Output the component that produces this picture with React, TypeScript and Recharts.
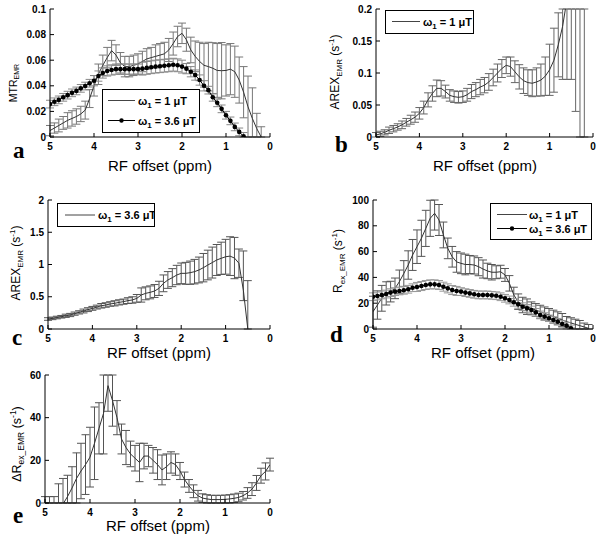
import React from 'react';
import { LineChart, Line, XAxis, YAxis, ErrorBar, Legend } from 'recharts';

const FONT = 'Arial, "Liberation Sans", Helvetica, sans-serif';
const SERIF = '"Times New Roman", "Liberation Serif", serif';

// RF offset (ppm), 0.1 ppm steps from 5 down to 0
const X_PPM = [5.0, 4.9, 4.8, 4.7, 4.6, 4.5, 4.4, 4.3, 4.2, 4.1, 4.0, 3.9, 3.8, 3.7, 3.6, 3.5, 3.4, 3.3, 3.2, 3.1, 3.0, 2.9, 2.8, 2.7, 2.6, 2.5, 2.4, 2.3, 2.2, 2.1, 2.0, 1.9, 1.8, 1.7, 1.6, 1.5, 1.4, 1.3, 1.2, 1.1, 1.0, 0.9, 0.8, 0.7, 0.6, 0.5, 0.4, 0.3, 0.2, 0.1, 0.0];
const X_TICKS = [5, 4, 3, 2, 1, 0];

const A_Y_TICKS = [0, 0.02, 0.04, 0.06, 0.08, 0.1];
const B_Y_TICKS = [0, 0.05, 0.1, 0.15, 0.2];
const C_Y_TICKS = [0, 0.5, 1, 1.5, 2];
const D_Y_TICKS = [0, 20, 40, 60, 80, 100];
const E_Y_TICKS = [0, 20, 40, 60];

const LABEL_1UT = '1 μT';
const LABEL_36UT = '3.6 μT';

// Panel a: MTR_EMR
const A_MTR_1UT = [0.005, 0.007, 0.009, 0.011, 0.013, 0.0145, 0.016, 0.018, 0.021, 0.03, 0.04, 0.049, 0.056, 0.062, 0.0675, 0.064, 0.058, 0.055, 0.055, 0.056, 0.057, 0.059, 0.061, 0.062, 0.063, 0.064, 0.065, 0.068, 0.073, 0.0785, 0.081, 0.076, 0.068, 0.063, 0.059, 0.056, 0.055, 0.0537, 0.052, 0.0518, 0.052, 0.053, 0.051, 0.0445, 0.035, 0.0236, 0.0144, 0.0065, 0.0];
const A_ERR_1UT = [0.004, 0.004, 0.005, 0.005, 0.006, 0.006, 0.006, 0.006, 0.007, 0.007, 0.008, 0.008, 0.008, 0.008, 0.008, 0.008, 0.008, 0.008, 0.008, 0.008, 0.008, 0.008, 0.008, 0.008, 0.009, 0.009, 0.009, 0.009, 0.009, 0.008, 0.008, 0.009, 0.01, 0.012, 0.015, 0.017, 0.019, 0.02, 0.021, 0.022, 0.02, 0.02, 0.02, 0.018, 0.02, 0.024, 0.024, 0.012, 0.008];
const A_MTR_36UT = [0.0257, 0.0275, 0.029, 0.031, 0.0327, 0.0345, 0.036, 0.038, 0.0398, 0.042, 0.044, 0.0476, 0.05, 0.0516, 0.0524, 0.053, 0.053, 0.053, 0.053, 0.053, 0.053, 0.0534, 0.054, 0.0545, 0.055, 0.0553, 0.0557, 0.056, 0.0565, 0.056, 0.055, 0.0534, 0.051, 0.0484, 0.0445, 0.04, 0.0366, 0.031, 0.0267, 0.022, 0.017, 0.0126, 0.0079, 0.004, 0.0005];
const A_ERR_36UT = [0.003, 0.003, 0.003, 0.003, 0.003, 0.003, 0.003, 0.003, 0.003, 0.003, 0.004, 0.004, 0.004, 0.004, 0.004, 0.004, 0.004, 0.004, 0.004, 0.004, 0.004, 0.005, 0.005, 0.005, 0.005, 0.005, 0.005, 0.005, 0.005, 0.005, 0.005, 0.004, 0.004, 0.004, 0.004, 0.004, 0.003, 0.003, 0.003, 0.003, 0.003, 0.003, 0.003, 0.003, 0.003];

// Panel b: AREX_EMR at 1 uT
const B_AREX_1UT = [0.003, 0.005, 0.0073, 0.0105, 0.013, 0.0157, 0.019, 0.023, 0.027, 0.031, 0.037, 0.046, 0.058, 0.068, 0.076, 0.076, 0.071, 0.065, 0.063, 0.062, 0.063, 0.066, 0.071, 0.074, 0.078, 0.081, 0.086, 0.093, 0.1, 0.107, 0.112, 0.11, 0.102, 0.094, 0.088, 0.085, 0.084, 0.086, 0.089, 0.095, 0.105, 0.12, 0.144, 0.173, 0.215, 0.28, 0.35, 0.45, 0.6];
const B_ERR_1UT = [0.004, 0.004, 0.004, 0.005, 0.005, 0.005, 0.006, 0.006, 0.007, 0.008, 0.009, 0.01, 0.011, 0.012, 0.013, 0.012, 0.01, 0.009, 0.009, 0.009, 0.009, 0.01, 0.011, 0.011, 0.012, 0.012, 0.013, 0.013, 0.014, 0.014, 0.013, 0.015, 0.017, 0.019, 0.02, 0.02, 0.021, 0.022, 0.025, 0.03, 0.04, 0.05, 0.05, 0.083, 0.125, 0.19, 0.31, 0.6, 1.0];

// Panel c: AREX_EMR at 3.6 uT
const C_AREX_36UT = [0.155, 0.165, 0.178, 0.19, 0.205, 0.217, 0.238, 0.258, 0.279, 0.3, 0.32, 0.34, 0.36, 0.372, 0.388, 0.398, 0.413, 0.424, 0.44, 0.45, 0.475, 0.527, 0.553, 0.568, 0.589, 0.63, 0.708, 0.76, 0.796, 0.837, 0.863, 0.863, 0.873, 0.889, 0.915, 0.951, 0.992, 1.03, 1.07, 1.096, 1.12, 1.13, 1.1, 1.02, 0.6, 0.0];
const C_ERR_36UT = [0.02, 0.02, 0.02, 0.02, 0.025, 0.025, 0.025, 0.025, 0.03, 0.03, 0.03, 0.03, 0.035, 0.035, 0.035, 0.04, 0.04, 0.04, 0.045, 0.05, 0.06, 0.11, 0.1, 0.1, 0.1, 0.11, 0.13, 0.13, 0.14, 0.15, 0.16, 0.17, 0.18, 0.19, 0.2, 0.22, 0.23, 0.24, 0.24, 0.25, 0.27, 0.3, 0.32, 0.22, [0.16, 0.61], 0.75];

// Panel d: Rex_EMR
const D_REX_1UT = [13.4, 18.6, 23.8, 27.6, 29, 31.5, 36.7, 43, 49.6, 57.4, 63.8, 70.3, 78, 85.8, 89.7, 84.5, 72.9, 62.5, 56, 52, 50.9, 50, 50, 49.6, 48.3, 46.5, 45, 44, 44, 44.4, 41.9, 35.4, 26.4, 21.2, 18.6, 17.3, 16, 14.7, 13.4, 12.1, 10.9, 9.6, 8.3, 7, 5.7, 4.7, 3.6, 2.6, 1.6, 0.5];
const D_ERR_1UT = [12, 11, 10, 9, 8, 8, 9, 10, 11, 12, 13, 14, 14, 14, 13, 12, 10, 8, 8, 8, 8, 8, 7, 7, 7, 7, 6, 6, 5, 5, 5, 6, 6, 6, 6, 6, 5, 5, 5, 5, 5, 5, 5, 5, 4, 4, 4, 4, 3, 3];
const D_REX_36UT = [25, 25.6, 26.4, 27.1, 28.2, 29, 29.5, 30, 30.8, 32, 32.6, 33.3, 34.1, 34.6, 34.6, 34.1, 32.8, 31.5, 30.2, 29.5, 29, 28.2, 27.6, 26.9, 26.4, 26.4, 26.4, 26.1, 25.8, 25, 23.8, 22.5, 20.7, 19.1, 17.3, 16, 14.7, 12.9, 10.9, 9.6, 8.3, 7, 5.7, 3.9, 2.6, 0.5];
const D_ERR_36UT = [3, 3, 3, 3, 3, 3, 3, 3, 3, 3, 3.5, 3.5, 3.5, 3.5, 3.5, 3.5, 3.5, 3.5, 3.5, 3.5, 3, 3, 3, 3, 3, 3, 3, 3, 3, 3, 3, 3, 3, 3, 3, 3, 3, 3, 3, 3, 2.5, 2.5, 2.5, 2.5, 2.5, 2.5];

// Panel e: delta Rex_EMR
const E_DREX = [-8, -6, -5, -4, -0.5, 3, 7, 11.5, 15, 18, 21.5, 28, 35, 42, 55, 48, 40, 30, 26, 23, 21, 19, 22, 22, 20, 18, 15.5, 17, 19, 18, 15, 11, 8, 5.5, 3.4, 2.3, 1.9, 1.6, 1.6, 1.6, 1.7, 1.9, 2.2, 2.6, 3.4, 4.7, 6.5, 9.4, 12.8, 14.8, 18];
const E_ERR = [11, 9, 8, 13, 12, 10, 10, 12, 13, 14, 14, 17, 12, 19, 12, 12, 8, 7, 8, 6, 6, 9, 6, 5, 6, 7, 7, 6, 5, 5, 4, 3.5, 3, 3, 2.5, 2, 2, 2, 2, 2, 2, 2, 2, 2, 2, 2.5, 3, 3.5, 3.5, 4, 3];

// Build rows; error bars are limited to the visible axis range (the plot clips them)
const toRows = (vals: number[], errs: any[], d0: number, d1: number) =>
  vals.map((v, i) => {
    const er = errs[i];
    const lo = Array.isArray(er) ? er[0] : er;
    const hi = Array.isArray(er) ? er[1] : er;
    const bottom = Math.max(v - lo, d0);
    const topV = Math.min(v + hi, d1);
    return { x: X_PPM[i], v, e: [v - bottom, topV - v] };
  });

type Box = { x: number; y: number; w: number; h: number };
type SeriesDef = { id: string; values: number[]; errors: any[]; color: string; errColor: string; dots: boolean };
type LegendItem = { label: string; color: string; dot: boolean };
type LegendDef = { x: number; y: number; w: number; h: number; centers: number[]; lineX: number; lineW: number; textX: number; items: LegendItem[] };

const ML = 50;
const MT = 10;
const MR = 10;
const XH = 25;

const tickStyle = { fill: '#000', fontSize: 10, fontWeight: 'bold', fontFamily: FONT };

function LegendBox({ def }: { def: LegendDef }) {
  return (
    <div style={{ width: def.w, height: def.h, background: '#fff' }}>
      <svg width={def.w} height={def.h} style={{ display: 'block' }}>
        <rect x={0.5} y={0.5} width={def.w - 1} height={def.h - 1} fill="#fff" stroke="#000" strokeWidth={1} />
        {def.items.map((it, i) => {
          const cy = def.centers[i];
          return (
            <g key={it.label}>
              <line x1={def.lineX} y1={cy} x2={def.lineX + def.lineW} y2={cy} stroke={it.color} strokeWidth={1} />
              {it.dot && <circle cx={def.lineX + def.lineW / 2} cy={cy} r={2.2} fill="#000" />}
              <text x={def.textX} y={cy + 4} fontSize={11} fontWeight="bold" fontFamily={FONT} fill="#000">
                ω<tspan fontSize={8} dy={3}>1</tspan>
                <tspan dy={-3}>{' = ' + it.label}</tspan>
              </text>
            </g>
          );
        })}
      </svg>
    </div>
  );
}

function Panel({ box, domain, ticks, series, boxed, legend }: { box: Box; domain: [number, number]; ticks: number[]; series: SeriesDef[]; boxed: boolean; legend?: LegendDef }) {
  const left = box.x - ML;
  const top = box.y - MT;
  return (
    <div style={{ position: 'absolute', left, top }}>
      <LineChart width={box.w + ML + MR} height={box.h + MT + XH} margin={{ top: MT, right: MR, bottom: 0, left: 0 }}>
        <XAxis xAxisId="b" type="number" dataKey="x" domain={[0, 5]} reversed ticks={X_TICKS} interval={0} allowDataOverflow height={XH} tickSize={-4} tickMargin={10} stroke="#000" tick={tickStyle} />
        {boxed && (
          <XAxis xAxisId="t" orientation="top" type="number" dataKey="x" domain={[0, 5]} reversed ticks={X_TICKS} interval={0} allowDataOverflow height={0} tickSize={-4} stroke="#000" tick={false} />
        )}
        <YAxis yAxisId="l" type="number" domain={domain} ticks={ticks} interval={0} allowDataOverflow width={ML} tickSize={-4} tickMargin={8} stroke="#000" tick={tickStyle} />
        {boxed && (
          <YAxis yAxisId="r" orientation="right" type="number" domain={domain} ticks={ticks} interval={0} allowDataOverflow width={0} tickSize={-4} stroke="#000" tick={false} />
        )}
        {series.map((s) => (
          <Line
            key={s.id}
            xAxisId="b"
            yAxisId="l"
            data={toRows(s.values, s.errors, domain[0], domain[1])}
            dataKey="v"
            type="linear"
            stroke={s.color}
            strokeWidth={1}
            dot={s.dots ? { r: 2.3, fill: '#000', stroke: '#000', strokeWidth: 0 } : false}
            activeDot={false}
            isAnimationActive={false}
          >
            <ErrorBar dataKey="e" width={4} stroke={s.errColor} strokeWidth={1} direction="y" isAnimationActive={false} />
          </Line>
        ))}
        {legend && (
          <Legend
            verticalAlign="middle"
            align="center"
            layout="horizontal"
            wrapperStyle={{ left: legend.x - left, top: legend.y - top, width: legend.w, height: legend.h }}
            content={() => <LegendBox def={legend} />}
          />
        )}
      </LineChart>
    </div>
  );
}

const LEG_A: LegendDef = { x: 102, y: 89, w: 98, h: 44, centers: [11.5, 31.5], lineX: 6, lineW: 27, textX: 36, items: [{ label: LABEL_1UT, color: '#444', dot: false }, { label: LABEL_36UT, color: '#000', dot: true }] };
const LEG_B: LegendDef = { x: 385, y: 10, w: 89, h: 24, centers: [11.5], lineX: 7, lineW: 28, textX: 38, items: [{ label: LABEL_1UT, color: '#444', dot: false }] };
const LEG_C: LegendDef = { x: 57, y: 203, w: 98, h: 24, centers: [12], lineX: 8, lineW: 30, textX: 41, items: [{ label: LABEL_36UT, color: '#444', dot: false }] };
const LEG_D: LegendDef = { x: 490, y: 203, w: 102, h: 37, centers: [11.5, 25.5], lineX: 7, lineW: 30, textX: 39, items: [{ label: LABEL_1UT, color: '#444', dot: false }, { label: LABEL_36UT, color: '#000', dot: true }] };

export default function App() {
  const xTitle = (x: number, y: number) => (
    <text x={x} y={y} textAnchor="middle" fontSize={15} fontFamily={FONT} fill="#000">RF offset (ppm)</text>
  );
  return (
    <div style={{ position: 'absolute', left: 0, top: 0, width: 604, height: 546, background: '#fff', overflow: 'hidden' }}>
      <Panel
        box={{ x: 50, y: 9, w: 220, h: 128 }}
        domain={[0, 0.1]}
        ticks={A_Y_TICKS}
        boxed={false}
        series={[
          { id: 'a1', values: A_MTR_1UT, errors: A_ERR_1UT, color: '#333', errColor: '#777', dots: false },
          { id: 'a36', values: A_MTR_36UT, errors: A_ERR_36UT, color: '#000', errColor: '#888', dots: true },
        ]}
        legend={LEG_A}
      />
      <Panel
        box={{ x: 376, y: 9, w: 217, h: 128 }}
        domain={[0, 0.2]}
        ticks={B_Y_TICKS}
        boxed={true}
        series={[{ id: 'b1', values: B_AREX_1UT, errors: B_ERR_1UT, color: '#333', errColor: '#666', dots: false }]}
        legend={LEG_B}
      />
      <Panel
        box={{ x: 48, y: 200, w: 222, h: 129 }}
        domain={[0, 2]}
        ticks={C_Y_TICKS}
        boxed={true}
        series={[{ id: 'c36', values: C_AREX_36UT, errors: C_ERR_36UT, color: '#333', errColor: '#555', dots: false }]}
        legend={LEG_C}
      />
      <Panel
        box={{ x: 373, y: 200, w: 220, h: 129 }}
        domain={[0, 100]}
        ticks={D_Y_TICKS}
        boxed={true}
        series={[
          { id: 'd1', values: D_REX_1UT, errors: D_ERR_1UT, color: '#333', errColor: '#555', dots: false },
          { id: 'd36', values: D_REX_36UT, errors: D_ERR_36UT, color: '#000', errColor: '#999', dots: true },
        ]}
        legend={LEG_D}
      />
      <Panel
        box={{ x: 45, y: 375, w: 225, h: 128 }}
        domain={[0, 60]}
        ticks={E_Y_TICKS}
        boxed={true}
        series={[{ id: 'e', values: E_DREX, errors: E_ERR, color: '#333', errColor: '#555', dots: false }]}
      />
      <svg width={604} height={546} style={{ position: 'absolute', left: 0, top: 0, pointerEvents: 'none' }}>
        {xTitle(160, 171)}
        {xTitle(485, 171)}
        {xTitle(159, 358)}
        {xTitle(483, 358)}
        {xTitle(158, 531)}
        <text transform="translate(16.5,83) rotate(-90)" textAnchor="middle" fontSize={10.5} fontFamily={FONT} fill="#000">
          MTR<tspan fontSize={7} dy={2.5}>EMR</tspan>
        </text>
        <text transform="translate(339,72) rotate(-90)" textAnchor="middle" fontSize={12} fontFamily={FONT} fill="#000">
          AREX<tspan fontSize={8} dy={3}>EMR</tspan>
          <tspan dy={-3}> (s</tspan>
          <tspan fontSize={8} dy={-5}>-1</tspan>
          <tspan dy={5}>)</tspan>
        </text>
        <text transform="translate(20,263) rotate(-90)" textAnchor="middle" fontSize={12} fontFamily={FONT} fill="#000">
          AREX<tspan fontSize={8} dy={3}>EMR</tspan>
          <tspan dy={-3}> (s</tspan>
          <tspan fontSize={8} dy={-5}>-1</tspan>
          <tspan dy={5}>)</tspan>
        </text>
        <text transform="translate(342,261) rotate(-90)" textAnchor="middle" fontSize={12} fontFamily={FONT} fill="#000">
          R<tspan fontSize={8} dy={3}>ex_EMR</tspan>
          <tspan dy={-3}> (s</tspan>
          <tspan fontSize={8} dy={-5}>-1</tspan>
          <tspan dy={5}>)</tspan>
        </text>
        <text transform="translate(20.5,444) rotate(-90)" textAnchor="middle" fontSize={12.5} fontFamily={FONT} fill="#000">
          ΔR<tspan fontSize={8.5} dy={3}>ex_EMR</tspan>
          <tspan dy={-3}> (s</tspan>
          <tspan fontSize={8.5} dy={-5}>-1</tspan>
          <tspan dy={5}>)</tspan>
        </text>
        <text x={13} y={158} fontSize={23} fontWeight="bold" fontFamily={SERIF} fill="#000">a</text>
        <text x={335} y={152} fontSize={23} fontWeight="bold" fontFamily={SERIF} fill="#000">b</text>
        <text x={12} y={345} fontSize={23} fontWeight="bold" fontFamily={SERIF} fill="#000">c</text>
        <text x={330} y={342} fontSize={23} fontWeight="bold" fontFamily={SERIF} fill="#000">d</text>
        <text x={13} y={523} fontSize={23} fontWeight="bold" fontFamily={SERIF} fill="#000">e</text>
      </svg>
    </div>
  );
}
